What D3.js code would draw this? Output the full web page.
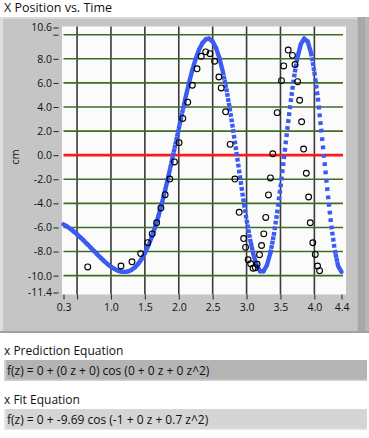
<!DOCTYPE html>
<html><head><meta charset="utf-8">
<script src="https://cdn.jsdelivr.net/npm/d3@7"></script>
<style>
html,body{margin:0;padding:0;background:#fff;}
svg{display:block;}
text{font-family:"Open Sans","Noto Sans",sans-serif;fill:#111;}
</style></head><body>
<svg id="c" width="369" height="438"></svg>
<script>
const title = "X Position vs. Time";
const yAxisLabel = "cm";
const xTickValues = [0.3, 0.5, 1.0, 1.5, 2.0, 2.5, 3.0, 3.5, 4.0, 4.4];
const xTickLabels = ["0.3", "", "1.0", "1.5", "2.0", "2.5", "3.0", "3.5", "4.0", "4.4"];
const yTickValues = [10.6, 10, 8, 6, 4, 2, 0, -2, -4, -6, -8, -10, -11.4];
const yTickLabels = ["10.6", "", "8.0", "6.0", "4.0", "2.0", "0.0", "-2.0", "-4.0", "-6.0", "-8.0", "-10.0", "-11.4"];
const xGridValues = [0.5, 1.0, 1.5, 2.0, 2.5, 3.0, 3.5, 4.0];
const yGridValues = [10, 8, 6, 4, 2, -2, -4, -6, -8, -10];
const zeroLineValue = [0];

// measured data (circles)
const dataZ = [0.657, 1.148, 1.310, 1.439, 1.542, 1.608, 1.674, 1.736, 1.799, 1.868, 1.936, 2.005, 2.059, 2.132, 2.200, 2.269, 2.331, 2.397, 2.460, 2.529, 2.592, 2.626, 2.691, 2.758, 2.828, 2.891, 2.957, 2.985, 3.023, 3.060, 3.095, 3.129, 3.155, 3.191, 3.221, 3.254, 3.283, 3.323, 3.352, 3.386, 3.452, 3.515, 3.548, 3.614, 3.677, 3.714, 3.753, 3.783, 3.812, 3.841, 3.881, 3.915, 3.940, 3.977, 4.013, 4.047, 4.077];
const dataX = [-9.28, -9.20, -8.85, -8.17, -7.26, -6.53, -5.61, -4.38, -3.28, -1.98, -0.56, 1.04, 3.05, 4.40, 5.81, 7.17, 8.21, 8.58, 8.43, 7.80, 6.49, 5.58, 3.60, 0.90, -1.98, -4.74, -6.92, -7.65, -8.68, -9.01, -9.39, -9.34, -9.06, -8.26, -7.50, -6.53, -5.17, -3.30, -1.89, 0.12, 3.53, 6.19, 7.41, 8.73, 8.29, 7.53, 6.10, 4.56, 2.77, 0.51, -1.50, -3.47, -5.61, -7.27, -8.24, -9.20, -9.59];

// fitted curve
const fitZ = [0.30, 0.35, 0.40, 0.45, 0.50, 0.55, 0.60, 0.65, 0.70, 0.75, 0.80, 0.85, 0.90, 0.95, 1.00, 1.05, 1.10, 1.15, 1.20, 1.25, 1.30, 1.35, 1.40, 1.45, 1.50, 1.55, 1.60, 1.65, 1.70, 1.75, 1.80, 1.85, 1.90, 1.95, 2.00, 2.05, 2.10, 2.15, 2.20, 2.25, 2.30, 2.35, 2.40, 2.45, 2.50, 2.55, 2.60, 2.65, 2.70, 2.75, 2.80, 2.85, 2.90, 2.95, 3.00, 3.05, 3.10, 3.15, 3.20, 3.25, 3.30, 3.35, 3.40, 3.45, 3.50, 3.55, 3.60, 3.65, 3.70, 3.75, 3.80, 3.85, 3.90, 3.95, 4.00, 4.05, 4.10, 4.15, 4.20, 4.25, 4.30, 4.35, 4.40];
const fitX = [-5.74, -5.91, -6.11, -6.34, -6.57, -6.83, -7.10, -7.38, -7.67, -7.96, -8.25, -8.53, -8.80, -9.04, -9.26, -9.44, -9.58, -9.66, -9.69, -9.65, -9.53, -9.32, -9.03, -8.63, -8.13, -7.52, -6.81, -5.98, -5.05, -4.01, -2.89, -1.69, -0.42, 0.88, 2.20, 3.51, 4.78, 5.98, 7.07, 8.01, 8.77, 9.32, 9.63, 9.67, 9.43, 8.89, 8.05, 6.93, 5.55, 3.94, 2.16, 0.26, -1.68, -3.59, -5.37, -6.95, -8.23, -9.14, -9.63, -9.63, -9.14, -8.14, -6.69, -4.83, -2.67, -0.31, 2.10, 4.41, 6.46, 8.10, 9.21, 9.68, 9.45, 8.52, 6.92, 4.76, 2.19, -0.58, -3.35, -5.85, -7.87, -9.20, -9.69];

const eqLabels = ["x Prediction Equation", "x Fit Equation"];
const eqTexts = ["f(z) = 0 + (0 z + 0) cos (0 + 0 z + 0 z^2)", "f(z) = 0 + -9.69 cos (-1 + 0 z + 0.7 z^2)"];

const svg = d3.select("#c");
svg.append("rect").attr("width", 369).attr("height", 438).attr("fill", "#fff");

svg.append("text").attr("x", 4).attr("y", 11.5).attr("font-size", 12.5).text(title);

// graph frame
svg.append("rect").attr("x", 0).attr("y", 17).attr("width", 369).attr("height", 316).attr("fill", "#c5c5c5");
svg.append("rect").attr("x", 0).attr("y", 17).attr("width", 369).attr("height", 2).attr("fill", "#d8d8d8");
svg.append("rect").attr("x", 0).attr("y", 17).attr("width", 3).attr("height", 316).attr("fill", "#dedede");
svg.append("rect").attr("x", 357).attr("y", 17).attr("width", 12).attr("height", 316).attr("fill", "#a8a8a8");
svg.append("rect").attr("x", 357).attr("y", 17).attr("width", 1).attr("height", 316).attr("fill", "#bcbcbc");
svg.append("rect").attr("x", 365).attr("y", 17).attr("width", 4).attr("height", 316).attr("fill", "#b6b6b6");
svg.append("rect").attr("x", 0).attr("y", 331).attr("width", 369).attr("height", 2).attr("fill", "#a0a0a0");

const x = d3.scaleLinear().domain([0.3, 4.4]).range([63.5, 341.5]);
const y = d3.scaleLinear().domain([-11.4, 10.6]).range([292.5, 27.5]);

// plot area
svg.append("rect").attr("x", 62).attr("y", 26.5).attr("width", 284).attr("height", 268).attr("fill", "#fbfbfb");

const plot = svg.append("g");
plot.selectAll("line.vg").data(xGridValues).join("line").attr("class", "vg")
  .attr("x1", d => x(d)).attr("x2", d => x(d)).attr("y1", 26.5).attr("y2", 294.5)
  .attr("stroke", "#3a3a3a").attr("stroke-width", 1.6);
plot.selectAll("line.hg").data(yGridValues).join("line").attr("class", "hg")
  .attr("x1", x(0.3)).attr("x2", x(4.4) + 1.5).attr("y1", d => y(d)).attr("y2", d => y(d))
  .attr("stroke", "#3f6d24").attr("stroke-width", 1.6);
plot.selectAll("line.zero").data(zeroLineValue).join("line").attr("class", "zero")
  .attr("x1", x(0.3)).attr("x2", x(4.4) + 1.5).attr("y1", d => y(d)).attr("y2", d => y(d))
  .attr("stroke", "#ff1a1a").attr("stroke-width", 2.8);

// fit curve: dense square markers look -> solid where flat, dotted where steep
const pts = fitZ.map((z, i) => [x(z), y(fitX[i])]);
const segs = d3.pairs(pts);
const pitch = 0.85, sq = 3.8;
const steepInfo = s => {
  const dx = Math.abs(s[1][0] - s[0][0]), dy = Math.abs(s[1][1] - s[0][1]);
  const slope = dy / dx;
  return {steep: slope * pitch > sq, period: pitch * Math.hypot(1, slope)};
};
plot.selectAll("path.fit").data(segs).join("path").attr("class", "fit")
  .attr("d", d => d3.line()(d))
  .attr("fill", "none").attr("stroke", "#3b5bf2").attr("stroke-width", 4.4)
  .attr("stroke-linecap", d => steepInfo(d).steep ? "butt" : "round")
  .attr("stroke-dasharray", d => {
    const s = steepInfo(d);
    return s.steep ? `${sq} ${(s.period - sq).toFixed(2)}` : null;
  });

plot.selectAll("circle.pt").data(dataZ).join("circle").attr("class", "pt")
  .attr("cx", d => x(d)).attr("cy", (d, i) => y(dataX[i])).attr("r", 2.9)
  .attr("fill", "none").attr("stroke", "#000").attr("stroke-width", 1.1);

// axes
const yAxis = svg.append("g").attr("transform", "translate(58.5,0)")
  .call(d3.axisLeft(y).tickValues(yTickValues).tickFormat((d, i) => yTickLabels[i]).tickSize(5).tickSizeOuter(0).tickPadding(1.5));
const xAxis = svg.append("g").attr("transform", "translate(0,294.5)")
  .call(d3.axisBottom(x).tickValues(xTickValues).tickFormat((d, i) => xTickLabels[i]).tickSize(5).tickSizeOuter(0).tickPadding(4));
[yAxis, xAxis].forEach(a => {
  a.select(".domain").remove();
  a.selectAll("line").attr("stroke", "#222");
  a.selectAll("text").attr("font-size", 10.5).attr("fill", "#111")
    .attr("font-family", "'Open Sans','Noto Sans',sans-serif");
});

svg.append("text").attr("transform", "translate(19,157) rotate(-90)")
  .attr("text-anchor", "middle").attr("font-size", 11).text(yAxisLabel);

// equation indicators
const boxY = [360, 409];
const boxFill = ["#b4b4b4", "#d5d5d5"];
const boxEdge = ["#d2d2d2", "#e6e6e6"];
eqLabels.forEach((lab, i) => {
  svg.append("text").attr("x", 4).attr("y", boxY[i] - 5.5).attr("font-size", 12).text(lab);
  svg.append("rect").attr("x", 4).attr("y", boxY[i]).attr("width", 363).attr("height", 21).attr("fill", boxFill[i]);
  svg.append("rect").attr("x", 4).attr("y", boxY[i]).attr("width", 2).attr("height", 21).attr("fill", boxEdge[i]);
  svg.append("rect").attr("x", 4).attr("y", boxY[i] + 19.5).attr("width", 363).attr("height", 1.5).attr("fill", boxEdge[i]);
  svg.append("text").attr("x", 7).attr("y", boxY[i] + 14.5).attr("font-size", 12).text(eqTexts[i]);
});
</script></body></html>
